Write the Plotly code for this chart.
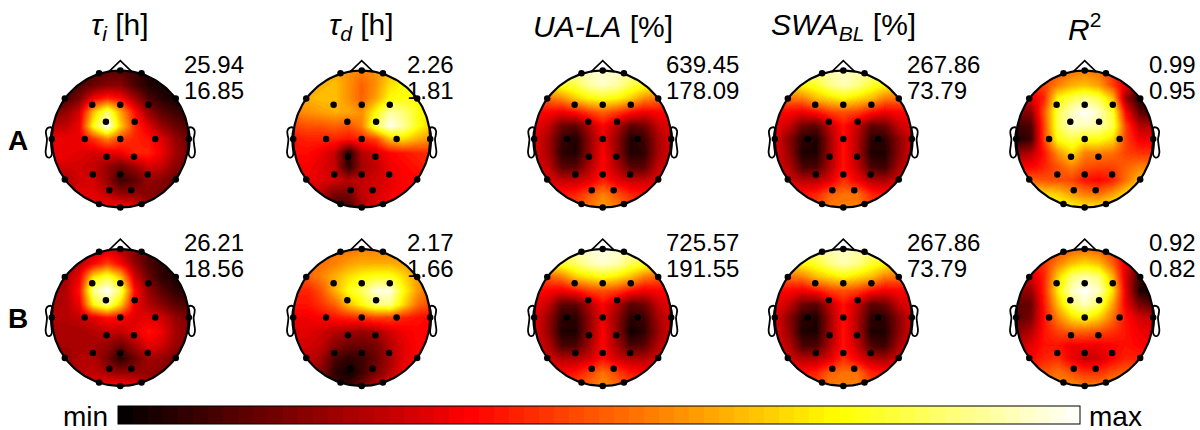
import numpy as np
import plotly.graph_objects as go

GRID_X = [-1.0, -0.8, -0.6, -0.4, -0.2, 0.0, 0.2, 0.4, 0.6, 0.8, 1.0]
GRID_Y = [1.0, 0.8, 0.6, 0.4, 0.2, 0.0, -0.2, -0.4, -0.6, -0.8, -1.0]

TAU_I_A = [
 [8,8,8,10,12,12,8,5,5,5,5],
 [8,8,10,14,18,18,10,4,3,3,3],
 [8,10,16,32,38,34,22,10,5,3,3],
 [16,20,28,58,82,55,36,20,12,8,6],
 [24,26,32,68,100,60,40,30,20,14,10],
 [32,32,32,40,50,42,38,36,30,20,14],
 [32,32,30,28,30,32,38,38,32,22,15],
 [28,28,28,26,20,14,20,28,26,18,15],
 [24,24,28,28,20,8,12,20,18,14,12],
 [20,24,30,30,26,20,20,18,16,14,12],
 [20,24,30,32,34,36,32,22,16,14,12]]
TAU_D_A = [
 [55,55,55,55,52,50,52,58,62,62,62],
 [55,55,56,58,52,46,52,62,66,66,66],
 [55,56,58,58,52,46,54,66,68,66,62],
 [50,52,54,56,55,52,66,88,82,70,62],
 [42,44,44,46,44,50,78,98,88,70,60],
 [36,38,38,38,36,38,42,58,62,56,52],
 [35,35,32,26,4,24,28,34,36,38,40],
 [33,33,30,26,6,22,26,32,34,36,38],
 [32,32,30,28,24,26,28,30,34,34,36],
 [30,28,24,16,16,26,28,32,34,34,34],
 [26,24,14,8,8,22,30,34,36,36,36]]
UA_LA_A = [
 [85,85,85,88,92,95,92,88,85,85,85],
 [65,65,70,76,88,92,88,76,70,65,65],
 [45,48,52,60,66,70,66,60,52,48,45],
 [34,34,32,36,42,46,42,36,32,34,34],
 [32,26,14,12,24,34,24,12,14,26,32],
 [30,22,8,4,20,32,20,4,8,22,30],
 [30,22,6,4,20,34,20,4,6,22,30],
 [30,26,12,12,24,34,24,12,12,26,30],
 [32,30,26,26,30,38,30,26,26,30,32],
 [36,36,36,38,44,50,44,38,36,36,36],
 [42,42,42,44,50,54,50,44,42,42,42]]
SWA_BL_A = [
 [82,82,82,85,90,92,90,85,82,82,82],
 [62,62,66,72,84,90,84,72,66,62,62],
 [46,48,50,58,62,66,62,58,50,48,46],
 [34,34,32,36,42,44,42,36,32,34,34],
 [32,26,14,12,26,36,26,12,14,26,32],
 [30,18,6,4,22,36,24,6,6,18,30],
 [30,20,4,4,22,36,24,4,4,18,30],
 [30,24,10,10,24,36,26,10,8,22,30],
 [32,28,24,24,30,40,32,24,22,28,32],
 [38,36,36,38,46,48,48,38,36,36,36],
 [44,42,42,44,50,50,50,44,42,42,42]]
R2_A = [
 [40,40,40,44,48,50,48,40,30,30,30],
 [40,40,42,50,56,58,54,42,30,24,24],
 [30,30,38,66,76,84,76,58,20,4,4],
 [18,18,44,76,92,100,92,72,34,12,10],
 [8,10,42,76,92,90,88,76,42,24,24],
 [4,8,42,68,76,68,68,62,42,32,32],
 [20,24,36,52,62,50,50,48,42,40,40],
 [34,34,38,44,50,44,42,42,46,50,50],
 [46,46,44,44,42,36,34,38,48,58,60],
 [62,62,62,60,54,50,48,54,62,66,66],
 [68,68,70,70,68,64,64,68,70,70,70]]
TAU_I_B = [
 [20,22,22,24,28,24,16,10,8,8,8],
 [20,22,24,34,42,34,20,10,6,5,5],
 [20,22,32,62,74,58,28,14,6,4,4],
 [20,24,36,86,100,80,36,20,12,6,5],
 [22,24,32,66,85,60,32,24,18,12,10],
 [24,24,26,30,36,34,30,30,28,20,16],
 [22,22,22,24,26,26,30,36,32,22,18],
 [22,22,22,22,20,14,22,30,28,20,16],
 [20,20,24,24,16,5,14,22,20,16,14],
 [18,20,24,26,22,20,20,20,18,14,12],
 [18,20,26,30,34,36,32,24,18,14,12]]
TAU_D_B = [
 [48,48,48,48,48,50,50,50,50,50,50],
 [48,48,48,50,54,56,56,56,54,50,50],
 [44,46,50,56,62,66,70,70,62,54,50],
 [38,38,44,56,68,78,96,96,68,54,46],
 [36,36,40,46,58,66,82,84,62,48,42],
 [32,32,34,36,38,40,42,42,38,36,34],
 [30,30,28,24,22,20,22,28,32,34,34],
 [28,28,26,18,14,14,16,24,30,34,34],
 [26,26,22,10,6,8,14,22,30,34,34],
 [24,24,18,6,2,8,16,24,32,34,34],
 [24,20,14,10,8,16,26,32,36,36,36]]
UA_LA_B = [
 [88,88,88,90,94,96,94,90,88,88,88],
 [66,66,72,80,90,94,90,78,72,66,66],
 [44,46,50,60,64,68,64,58,50,46,44],
 [34,34,32,36,42,44,42,36,32,34,34],
 [32,26,12,12,24,34,24,12,14,26,32],
 [30,20,6,6,20,32,20,6,8,22,30],
 [30,20,4,4,20,34,20,2,6,20,30],
 [30,24,10,10,22,34,22,10,12,24,30],
 [32,28,24,24,28,36,28,24,24,28,32],
 [36,36,34,36,42,48,42,36,34,36,36],
 [42,42,42,44,48,52,48,44,42,42,42]]
SWA_BL_B = SWA_BL_A
R2_B = [
 [40,40,40,42,46,48,46,40,28,26,26],
 [36,36,40,50,58,62,58,46,30,22,22],
 [28,28,38,60,82,88,82,56,28,8,6],
 [20,20,38,64,92,100,92,62,30,4,2],
 [12,14,36,58,80,92,78,54,32,16,12],
 [12,16,36,50,62,66,60,48,36,28,26],
 [18,24,36,42,46,46,44,40,36,32,30],
 [26,30,36,36,32,32,32,34,36,34,32],
 [32,34,38,40,32,26,28,34,38,38,36],
 [40,40,44,48,44,40,40,44,46,46,46],
 [46,46,50,52,52,50,50,52,52,52,52]]

MAPS = [TAU_I_A, TAU_D_A, UA_LA_A, SWA_BL_A, R2_A, TAU_I_B, TAU_D_B, UA_LA_B, SWA_BL_B, R2_B]
TITLES = ["<i>τ</i><sub><i>i</i></sub> [h]", "<i>τ</i><sub><i>d</i></sub> [h]", "<i>UA-LA</i> [%]",
          "<i>SWA</i><sub><i>BL</i></sub> [%]", "<i>R</i><sup>2</sup>"]
RANGE_LABELS = [["25.94", "16.85"], ["2.26", "1.81"], ["639.45", "178.09"], ["267.86", "73.79"], ["0.99", "0.95"],
                ["26.21", "18.56"], ["2.17", "1.66"], ["725.57", "191.55"], ["267.86", "73.79"], ["0.92", "0.82"]]
ROW_LABELS = ["A", "B"]

ELEC_X = [-0.31,0,0.31,-0.81,0.81,-0.41,0,0.41,-0.21,0.21,-1,-0.52,0,0.51,1,-0.2,0.2,-0.4,0,0.4,-0.81,0.81,-0.16,0.16,-0.31,0,0.31]
ELEC_Y = [0.96,1,0.96,0.59,0.59,0.5,0.5,0.5,0.25,0.25,0,0,0,0,0,-0.26,-0.26,-0.52,-0.52,-0.52,-0.59,-0.59,-0.75,-0.75,-0.95,-1,-0.95]
NOSE_X = [-0.17, 0, 0.17]
NOSE_Y = [0.98, 1.145, 0.98]
EAR_X = [1.0, 1.05, 1.085, 1.08, 1.07, 1.08, 1.09, 1.07, 1.03, 1.0, 1.01, 1.015, 1.01, 1.0]
EAR_Y = [0.16, 0.165, 0.12, 0.05, 0.0, -0.1, -0.2, -0.26, -0.27, -0.23, -0.1, 0.0, 0.08, 0.16]

# the maps were read against the colour bar: 0, 34, 66 and 100 stand for black, red, yellow and white there
READ_STOPS = [0, 34, 66, 100]
BAR_STOPS = [0, 36.5, 75, 100]

HOT_LEVELS = 64
COLORSCALE = []
for k in range(HOT_LEVELS):
    t = (k + 0.5) / HOT_LEVELS
    r = min(1, t / 0.365)
    g = min(1, max(0, (t - 0.365) / 0.385))
    b = min(1, max(0, (t - 0.75) / 0.25))
    c = f"rgb({round(r*255)},{round(g*255)},{round(b*255)})"
    COLORSCALE += [[k / HOT_LEVELS, c], [(k + 1) / HOT_LEVELS, c]]

FONT = "Liberation Sans"
CX = [120.3, 361.7, 602.7, 843.3, 1084.7]
CY = [139.0, 317.5]
R = 68.5
W, H = 1200, 430
LABEL_X = [182.5, 404.5, 664, 905, 1147]

theta = np.linspace(0, 2 * np.pi, 181)
cx_, cy_ = np.cos(theta), np.sin(theta)
mask_x = list(cx_) + [1.25, 1.25, -1.25, -1.25, 1.25, 1.25, 1.0]
mask_y = list(cy_) + [0, -1.25, -1.25, 1.25, 1.25, 0, 0]

fig = go.Figure()
annotations = []
layout = {}
for i, z in enumerate(MAPS):
    row, col = divmod(i, 5)
    n = str(i + 1) if i else ""
    xa, ya = "x" + n, "y" + n
    px0, px1 = CX[col] - 1.35 * R, CX[col] + 1.35 * R
    py_top, py_bot = CY[row] - 1.3 * R, CY[row] + 1.2 * R
    layout["xaxis" + n] = dict(domain=[px0 / W, px1 / W], range=[-1.35, 1.35], visible=False, anchor=ya, fixedrange=True)
    layout["yaxis" + n] = dict(domain=[1 - py_bot / H, 1 - py_top / H], range=[-1.2, 1.3], visible=False, anchor=xa, fixedrange=True)
    hm = dict(x=GRID_X, y=GRID_Y, z=np.interp(np.array(z, dtype=float), READ_STOPS, BAR_STOPS), zmin=0, zmax=100, zsmooth="best",
              colorscale=COLORSCALE, xaxis=xa, yaxis=ya, hoverinfo="skip")
    if i == 0:
        hm.update(showscale=True, colorbar=dict(orientation="h", x=118 / W, xanchor="left", y=1 - 406 / H, yanchor="top",
                  lenmode="pixels", len=962, thicknessmode="pixels", thickness=18, xpad=0, ypad=0,
                  showticklabels=False, ticks="", outlinecolor="black", outlinewidth=1, borderwidth=0))
    else:
        hm.update(showscale=False)
    fig.add_trace(go.Heatmap(**hm))
    fig.add_trace(go.Scatter(x=mask_x, y=mask_y, mode="none", fill="toself", fillcolor="white", xaxis=xa, yaxis=ya, hoverinfo="skip", showlegend=False))
    fig.add_trace(go.Scatter(x=cx_, y=cy_, mode="lines", line=dict(color="black", width=2.2), xaxis=xa, yaxis=ya, hoverinfo="skip", showlegend=False))
    fig.add_trace(go.Scatter(x=NOSE_X, y=NOSE_Y, mode="lines", line=dict(color="black", width=1.6), xaxis=xa, yaxis=ya, hoverinfo="skip", showlegend=False))
    for sgn in (-1, 1):
        fig.add_trace(go.Scatter(x=[sgn * v for v in EAR_X], y=EAR_Y, mode="lines", line=dict(color="black", width=1.8, shape="spline"),
                                 xaxis=xa, yaxis=ya, hoverinfo="skip", showlegend=False))
    fig.add_trace(go.Scatter(x=ELEC_X, y=ELEC_Y, mode="markers", marker=dict(color="black", size=6.5), xaxis=xa, yaxis=ya, hoverinfo="skip", showlegend=False))
    hi, lo = RANGE_LABELS[i]
    dy = [64, 242][row]
    for txt, y in ((hi, dy), (lo, dy + 26)):
        annotations.append(dict(text=txt, x=LABEL_X[col] / W, y=1 - y / H, xref="paper", yref="paper", xanchor="left", yanchor="middle",
                                showarrow=False, font=dict(family=FONT, size=24, color="black")))

for c, t in zip(CX, TITLES):
    annotations.append(dict(text=t, x=c / W, y=1 - 27 / H, xref="paper", yref="paper", xanchor="center", yanchor="middle",
                            showarrow=False, font=dict(family=FONT, size=30, color="black")))
for y, t in zip(CY, ROW_LABELS):
    annotations.append(dict(text=f"<b>{t}</b>", x=18 / W, y=1 - (y + 1) / H, xref="paper", yref="paper", xanchor="center", yanchor="middle",
                            showarrow=False, font=dict(family=FONT, size=28, color="black")))
annotations.append(dict(text="min", x=110 / W, y=1 - 416 / H, xref="paper", yref="paper", xanchor="right", yanchor="middle",
                        showarrow=False, font=dict(family=FONT, size=28, color="black")))
annotations.append(dict(text="max", x=1087 / W, y=1 - 416 / H, xref="paper", yref="paper", xanchor="left", yanchor="middle",
                        showarrow=False, font=dict(family=FONT, size=28, color="black")))

fig.update_layout(width=W, height=H, margin=dict(l=0, r=0, t=0, b=0), paper_bgcolor="white", plot_bgcolor="white",
                  showlegend=False, annotations=annotations, **layout)
fig.write_html("out.html", config={"displayModeBar": False}, post_script="document.body.style.margin='0';")
